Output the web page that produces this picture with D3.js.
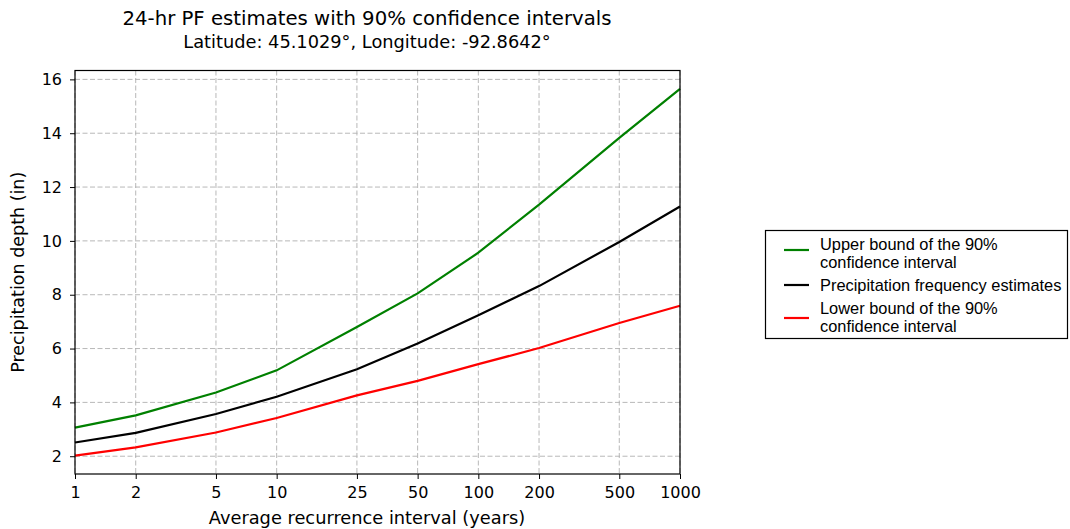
<!DOCTYPE html>
<html>
<head>
<meta charset="utf-8">
<script src="https://cdn.jsdelivr.net/npm/d3@7"></script>
<style>
body { margin: 0; background: #fff; }
svg text { font-family: "DejaVu Sans", sans-serif; fill: #000; }
.legend text { font-family: "Liberation Sans", Arial, sans-serif; }
</style>
</head>
<body>
<div id="chart"></div>
<script>
// recurrence intervals (years)
var intervals = [1, 2, 5, 10, 25, 50, 100, 200, 500, 1000];
var tickLabels = ["1", "2", "5", "10", "25", "50", "100", "200", "500", "1000"];
var upper = [3.06, 3.52, 4.37, 5.19, 6.80, 8.05, 9.56, 11.35, 13.83, 15.65];
var estimate = [2.51, 2.87, 3.57, 4.21, 5.23, 6.19, 7.24, 8.32, 9.96, 11.28];
var lower = [2.02, 2.33, 2.88, 3.42, 4.26, 4.80, 5.42, 6.02, 6.95, 7.59];
var yTicks = [2, 4, 6, 8, 10, 12, 14, 16];

var width = 1070, height = 529;
var plotL = 75, plotR = 680, plotT = 70.5, plotB = 474;
var textMid = 367;

var svg = d3.select("#chart").append("svg")
		.attr("width", width).attr("height", height);

var x = d3.scaleLog().domain([1, 1000]).range([plotL, plotR]);
var y = d3.scaleLinear().domain([1.34, 16.33]).range([plotB, plotT]);

// grid
var grid = svg.append("g").attr("stroke", "#b0b0b0").attr("stroke-width", 0.9)
		.attr("stroke-dasharray", "5,2.5");
grid.selectAll(".gx").data(intervals).enter().append("line")
	.attr("x1", function(d) {return x(d);}).attr("x2", function(d) {return x(d);})
	.attr("y1", plotT).attr("y2", plotB);
grid.selectAll(".gy").data(yTicks).enter().append("line")
	.attr("x1", plotL).attr("x2", plotR)
	.attr("y1", function(d) {return y(d);}).attr("y2", function(d) {return y(d);});

// axes
var xAxis = d3.axisBottom(x).tickValues(intervals)
		.tickFormat(function(d, i) {return tickLabels[i];}).tickSize(5).tickPadding(8);
var yAxis = d3.axisLeft(y).tickValues(yTicks).tickSize(5).tickPadding(8);

var gx = svg.append("g").attr("transform", "translate(0," + plotB + ")").call(xAxis);
var gy = svg.append("g").attr("transform", "translate(" + plotL + ",0)").call(yAxis);
[gx, gy].forEach(function(g) {
	g.select(".domain").remove();
	g.selectAll("text").attr("font-size", 16).attr("font-family", "DejaVu Sans").attr("fill", "#000");
	g.selectAll("line").attr("stroke", "#000").attr("stroke-width", 1);
});

// lines
var series = [
	{values: upper, color: "#008000"},
	{values: estimate, color: "#000000"},
	{values: lower, color: "#ff0000"}
];
var line = d3.line()
	.x(function(d, i) {return x(intervals[i]);})
	.y(function(d) {return y(d);});

svg.append("g").selectAll("path").data(series).enter().append("path")
	.attr("d", function(s) {return line(s.values);})
	.attr("fill", "none")
	.attr("stroke", function(s) {return s.color;})
	.attr("stroke-width", 2.2);

// frame
svg.append("rect").attr("x", plotL).attr("y", plotT)
	.attr("width", plotR - plotL).attr("height", plotB - plotT)
	.attr("fill", "none").attr("stroke", "#000").attr("stroke-width", 1.2);

// titles
svg.append("text").attr("x", textMid).attr("y", 25)
	.attr("text-anchor", "middle").attr("font-size", 19.7)
	.text("24-hr PF estimates with 90% confidence intervals");
svg.append("text").attr("x", textMid).attr("y", 48)
	.attr("text-anchor", "middle").attr("font-size", 17.8)
	.text("Latitude: 45.1029\u00b0, Longitude: -92.8642\u00b0");
svg.append("text").attr("x", textMid).attr("y", 524)
	.attr("text-anchor", "middle").attr("font-size", 17.8)
	.text("Average recurrence interval (years)");
svg.append("text").attr("transform", "translate(24," + ((plotT + plotB) / 2) + ") rotate(-90)")
	.attr("text-anchor", "middle").attr("font-size", 17.5)
	.text("Precipitation depth (in)");

// legend
var legendItems = [
	{lines: ["Upper bound of the 90%", "confidence interval"], color: "#008000", ly: 250, ty: [249.5, 268]},
	{lines: ["Precipitation frequency estimates"], color: "#000000", ly: 285, ty: [290.5]},
	{lines: ["Lower bound of the 90%", "confidence interval"], color: "#ff0000", ly: 318, ty: [313.5, 331.5]}
];
var lg = svg.append("g").attr("class", "legend");
lg.append("rect").attr("x", 765.5).attr("y", 230.5).attr("width", 302).attr("height", 108)
	.attr("fill", "#fff").attr("stroke", "#000").attr("stroke-width", 1.2);
legendItems.forEach(function(it) {
	lg.append("line").attr("x1", 784).attr("x2", 809)
		.attr("y1", it.ly).attr("y2", it.ly)
		.attr("stroke", it.color).attr("stroke-width", 2.2);
	it.lines.forEach(function(t, i) {
		lg.append("text").attr("x", 820).attr("y", it.ty[i])
			.attr("font-size", 16.4).text(t);
	});
});
</script>
</body>
</html>
